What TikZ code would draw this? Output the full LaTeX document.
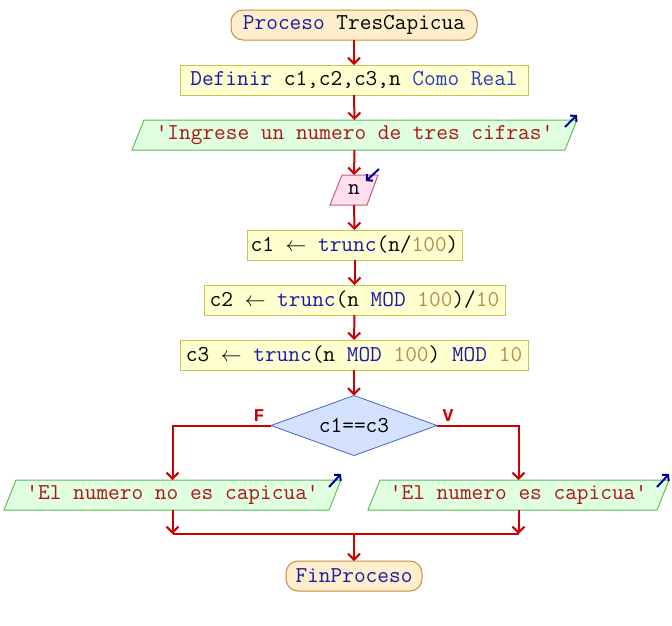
\documentclass[tikz,border=0pt]{standalone}
\usepackage{fontspec}
\newfontfamily\lblfont{Liberation Mono}
\usetikzlibrary{arrows.meta,shapes.geometric,backgrounds}
\definecolor{flow}{RGB}{204,0,0}
\definecolor{kw}{RGB}{25,25,170}
\definecolor{kwb}{RGB}{40,60,200}
\definecolor{str}{RGB}{175,20,20}
\definecolor{num}{RGB}{185,140,70}
\definecolor{ioarrow}{RGB}{0,0,150}
\definecolor{termfill}{RGB}{255,238,204}
\definecolor{termdraw}{RGB}{200,140,60}
\definecolor{procfill}{RGB}{255,255,208}
\definecolor{procdraw}{RGB}{200,195,80}
\definecolor{outfill}{RGB}{224,255,224}
\definecolor{outdraw}{RGB}{90,190,90}
\definecolor{infill}{RGB}{255,222,238}
\definecolor{indraw}{RGB}{200,90,130}
\definecolor{decfill}{RGB}{212,226,255}
\definecolor{decdraw}{RGB}{70,100,200}
\begin{document}
\begin{tikzpicture}[x=1pt,y=-1pt,
  every node/.style={font=\fontsize{22.7}{24}\selectfont\ttfamily, inner sep=0pt, outer sep=0pt},
  term/.style={draw=termdraw, fill=termfill, line width=1pt, rounded corners=12pt, minimum height=30pt},
  proc/.style={draw=procdraw, fill=procfill, line width=1pt, minimum height=30pt},
  iobox/.style={minimum height=30pt},
  outshape/.style={draw=outdraw, fill=outfill, line width=1pt},
  inshape/.style={draw=indraw, fill=infill, line width=1pt},
  dec/.style={diamond, draw=decdraw, fill=decfill, line width=0.8pt, aspect=2.77, minimum width=166pt, minimum height=60pt},
  flowline/.style={draw=flow, line width=2pt},
  flowarrow/.style={flowline, -{Straight Barb[length=6pt,width=12pt,line width=2pt]}},
  ioarr/.style={draw=ioarrow, line width=2pt, -{Straight Barb[length=4pt,width=9pt,line width=2pt]}},
  lbl/.style={font=\lblfont\bfseries\fontsize{18}{20}\selectfont, text=flow}
]
\useasboundingbox (0,0) rectangle (672,625);

\node[term, minimum width=246pt] (start) at (354,25) {\textcolor{kw}{Proceso} TresCapicua};
\node[proc, minimum width=348pt] (def) at (354,80) {\textcolor{kw}{Definir} c1,c2,c3,n \textcolor{kwb}{Como Real}};
\node[iobox, minimum width=445pt] (out1) at (354.5,135) {\textcolor{str}{'Ingrese un numero de tres cifras'}};
\node[iobox, minimum width=48pt] (inp) at (354,190) {n};
\node[proc, minimum width=215pt] (c1) at (354.5,245) {c1 $\leftarrow$ \textcolor{kw}{trunc}(n/\textcolor{num}{100})};
\node[proc, minimum width=301pt] (c2) at (354.5,300) {c2 $\leftarrow$ \textcolor{kw}{trunc}(n \textcolor{kw}{MOD} \textcolor{num}{100})/\textcolor{num}{10}};
\node[proc, minimum width=348pt] (c3) at (354,355) {c3 $\leftarrow$ \textcolor{kw}{trunc}(n \textcolor{kw}{MOD} \textcolor{num}{100}) \textcolor{kw}{MOD} \textcolor{num}{10}};
\node[dec] (cond) at (354,425.5) {c1==c3};
\node[iobox, minimum width=337pt] (outF) at (172.5,495) {\textcolor{str}{'El numero no es capicua'}};
\node[iobox, minimum width=301pt] (outV) at (518.5,495) {\textcolor{str}{'El numero es capicua'}};
\node[term, minimum width=136pt] (fin) at (354,576) {\textcolor{kw}{FinProceso}};
\coordinate (merge) at (354,534);

\begin{scope}[on background layer]
  \path[outshape] ([xshift=12pt]out1.north west) -- (out1.north east) -- ([xshift=-12pt]out1.south east) -- (out1.south west) -- cycle;
  \path[inshape] ([xshift=12pt]inp.north west) -- (inp.north east) -- ([xshift=-11pt]inp.south east) -- (inp.south west) -- cycle;
  \path[outshape] ([xshift=12pt]outF.north west) -- (outF.north east) -- ([xshift=-12pt]outF.south east) -- (outF.south west) -- cycle;
  \path[outshape] ([xshift=12pt]outV.north west) -- (outV.north east) -- ([xshift=-12pt]outV.south east) -- (outV.south west) -- cycle;
\end{scope}

% io markers
\draw[ioarr] ([xshift=-12pt,yshift=-7pt]out1.north east) -- ([yshift=5pt]out1.north east);
\draw[ioarr] ([xshift=1pt,yshift=6pt]inp.north east) -- ([xshift=-12pt,yshift=-6pt]inp.north east);
\draw[ioarr] ([xshift=-12pt,yshift=-7pt]outF.north east) -- ([yshift=6pt]outF.north east);
\draw[ioarr] ([xshift=-12pt,yshift=-7pt]outV.north east) -- ([yshift=6pt]outV.north east);

% flow
\draw[flowarrow] (start) -- (def);
\draw[flowarrow] (def) -- (out1);
\draw[flowarrow] (out1) -- (inp);
\draw[flowarrow] (inp) -- (c1);
\draw[flowarrow] (c1) -- (c2);
\draw[flowarrow] (c2) -- (c3);
\draw[flowarrow] (c3) -- (cond);
\draw[flowarrow] (cond.west) -| (outF.north);
\draw[flowarrow] (cond.east) -| (outV.north);
\draw[flowarrow] (outF.south) -- (outF.south |- merge);
\draw[flowarrow] (outV.south) -- (outV.south |- merge);
\draw[flowline] (outF.south |- merge) -- (outV.south |- merge);
\draw[flowarrow] (merge) -- (fin);

\node[lbl, anchor=south] (lf) at ([xshift=-12pt,yshift=4pt]cond.west) {F};
\node[lbl, anchor=south] (lv) at ([xshift=11pt,yshift=4pt]cond.east) {V};
\end{tikzpicture}
\end{document}
